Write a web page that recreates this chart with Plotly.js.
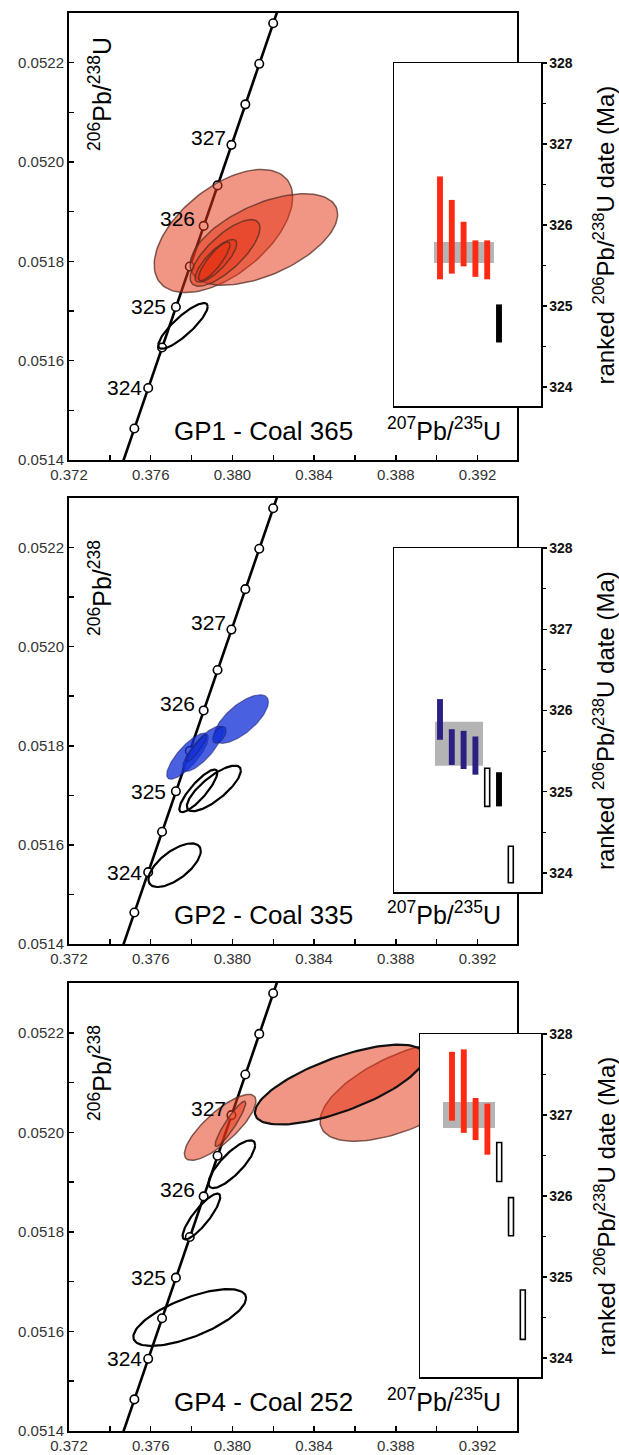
<!DOCTYPE html>
<html>
<head>
<meta charset="utf-8">
<script src="https://cdn.plot.ly/plotly-3.0.1.min.js"></script>
<style>html,body{margin:0;padding:0;background:#fff;}#chart{width:619px;height:1455px;}</style>
</head>
<body>
<div id="chart"></div>
<script>
// ---------- DATA ----------
// Concordia reference points (age in Ma, 207Pb/235U, 206Pb/238U)
const concAge = [323.0, 323.5, 324.0, 324.5, 325.0, 325.5, 326.0, 326.5, 327.0, 327.5, 328.0, 328.5, 329.0];
const concX   = [0.374523, 0.375200, 0.375877, 0.376555, 0.377233, 0.377912, 0.378591, 0.379271, 0.379951, 0.380632, 0.381313, 0.381995, 0.382678];
const concY   = [0.0513819, 0.0514635, 0.0515450, 0.0516266, 0.0517081, 0.0517897, 0.0518713, 0.0519529, 0.0520345, 0.0521161, 0.0521977, 0.0522793, 0.0523609];
const ageLabels = [324, 325, 326, 327];

// Error ellipses: [207/235, 2s, 206/238, 2s, rho]
const gp1Red = [
  [0.37956, 0.00339, 0.051861, 0.000124, 0.55],
  [0.38154, 0.00361, 0.051844, 0.000092, 0.55],
  [0.37964, 0.00171, 0.051817, 0.000067, 0.75],
  [0.37919, 0.00102, 0.051801, 0.000043, 0.80],
  [0.37911, 0.00077, 0.051800, 0.000039, 0.85]
];
const gp1Black = [
  [0.37758, 0.00121, 0.051670, 0.000046, 0.85]
];
const gp2Blue = [
  [0.38043, 0.00133, 0.051854, 0.000049, 0.70],
  [0.37780, 0.00102, 0.051779, 0.0000465, 0.80],
  [0.37856, 0.00099, 0.051794, 0.0000455, 0.80],
  [0.37936, 0.00033, 0.051822, 0.0000168, 0.50],
  [0.37825, 0.00049, 0.051795, 0.0000269, 0.92]
];
const gp2Black = [
  [0.37833, 0.00093, 0.051709, 0.000043, 0.85],
  [0.37909, 0.00132, 0.051714, 0.000046, 0.78],
  [0.37717, 0.00128, 0.051559, 0.000044, 0.65]
];
const gp4Red = [
  [0.38845, 0.00416, 0.052083, 0.000101, 0.60],
  [0.38525, 0.00415, 0.052096, 0.0000802, 0.70],
  [0.37940, 0.00175, 0.052010, 0.0000663, 0.80],
  [0.37990, 0.00075, 0.052017, 0.0000455, 0.92]
];
const gp4Black = [
  [0.37997, 0.00114, 0.051936, 0.000048, 0.80],
  [0.37848, 0.00092, 0.051831, 0.000046, 0.85],
  [0.37791, 0.00276, 0.051628, 0.000057, 0.68]
];

// Ranked 206Pb/238U dates (Ma): low / high of each bar
const gp1Lo = [325.33, 325.40, 325.49, 325.36, 325.33, 324.55];
const gp1Hi = [326.60, 326.31, 326.04, 325.81, 325.81, 325.02];
const gp1Kind = ['red','red','red','red','red','black'];
const gp1Mean = 325.66, gp1MeanErr = 0.13;

const gp2Lo = [325.64, 325.33, 325.28, 325.21, 324.82, 324.82, 323.88];
const gp2Hi = [326.14, 325.77, 325.75, 325.68, 325.29, 325.24, 324.33];
const gp2Kind = ['blue','blue','blue','blue','open','black','open'];
const gp2Mean = 325.59, gp2MeanErr = 0.27;

const gp4Lo = [326.93, 326.78, 326.69, 326.51, 326.18, 325.51, 324.23];
const gp4Hi = [327.78, 327.81, 327.21, 327.14, 326.66, 325.98, 324.84];
const gp4Kind = ['red','red','red','red','open','open','open'];
const gp4Mean = 327.00, gp4MeanErr = 0.16;

const panelNames = ['GP1 - Coal 365', 'GP2 - Coal 335', 'GP4 - Coal 252'];

// ---------- STYLE / LAYOUT ----------
const W = 619, H = 1455;
const PX = x => x / W, PY = y => 1 - y / H;
const FONT = 'Liberation Sans, Arial, sans-serif';

const panels = [
  {name: panelNames[0], top: 13, bot: 460, inX: [394, 541], inY: [63, 406], inRange: [-2.898, 9.559],
   ytitle: '<sup>206</sup>Pb/<sup>238</sup>U', ell: [gp1Red], fills: ['red'], black: gp1Black,
   lo: gp1Lo, hi: gp1Hi, kind: gp1Kind, mean: gp1Mean, err: gp1MeanErr, grayX: 3.03, grayW: 5.08},
  {name: panelNames[1], top: 498, bot: 944, inX: [394, 541], inY: [548, 892], inRange: [-2.898, 9.559],
   ytitle: '<sup>206</sup>Pb/<sup>238</sup>', ell: [gp2Blue], fills: ['blue'], black: gp2Black,
   lo: gp2Lo, hi: gp2Hi, kind: gp2Kind, mean: gp2Mean, err: gp2MeanErr, grayX: 2.61, grayW: 4.07},
  {name: panelNames[2], top: 983, bot: 1431, inX: [420, 541], inY: [1034, 1377], inRange: [-1.712, 8.542],
   ytitle: '<sup>206</sup>Pb/<sup>238</sup>', ell: [gp4Red], fills: ['red4'], black: gp4Black,
   lo: gp4Lo, hi: gp4Hi, kind: gp4Kind, mean: gp4Mean, err: gp4MeanErr, grayX: 2.44, grayW: 4.41}
];

const fillStyles = {
  red:  {fill: 'rgba(228,52,22,0.52)', line: 'rgba(85,45,35,0.75)', w: 1.5},
  blue: {fill: 'rgba(22,52,215,0.78)', line: 'rgba(30,30,110,0.55)', w: 1.2},
  red4: {fill: 'rgba(228,52,22,0.52)', line: 'rgba(85,45,35,0.75)', w: 1.5}
};
const barColors = {red: '#ff2a14', blue: '#2a1f82', black: '#000000', open: '#ffffff'};

function ellipse(e, xa, ya, st, dark) {
  const [cx, ex, cy, ey, rho] = e;
  const s = Math.sqrt(1 - rho * rho);
  const xs = [], ys = [];
  const n = 120;
  for (let i = 0; i <= n; i++) {
    const t = 2 * Math.PI * i / n;
    xs.push(cx + ex * Math.cos(t));
    ys.push(cy + ey * (rho * Math.cos(t) + s * Math.sin(t)));
  }
  const tr = {type: 'scatter', mode: 'lines', x: xs, y: ys, xaxis: xa, yaxis: ya,
    hoverinfo: 'skip', showlegend: false};
  if (st) {
    tr.fill = 'toself'; tr.fillcolor = st.fill;
    tr.line = {color: dark ? '#111' : st.line, width: dark ? 2.2 : st.w};
  } else {
    tr.line = {color: '#000', width: 2.2};
  }
  return tr;
}

const traces = [];
const layout = {
  width: W, height: H, margin: {l: 0, r: 0, t: 0, b: 0},
  paper_bgcolor: '#fff', plot_bgcolor: '#fff', showlegend: false,
  barmode: 'overlay', font: {family: FONT, color: '#000'},
  annotations: []
};

panels.forEach((p, i) => {
  const mi = 2 * i + 1, ii = 2 * i + 2;
  const xa = 'x' + mi, ya = 'y' + mi, xb = 'x' + ii, yb = 'y' + ii;
  const xk = 'xaxis' + mi, yk = 'yaxis' + mi, xbk = 'xaxis' + ii, ybk = 'yaxis' + ii;

  layout[xk] = {domain: [PX(69), PX(517)], anchor: ya, range: [0.372, 0.39393],
    showline: true, mirror: true, linecolor: '#000', linewidth: 2,
    ticks: 'inside', ticklen: 5, tickwidth: 1.5, tickcolor: '#000',
    tick0: 0.372, dtick: 0.004, tickformat: '.3f',
    minor: {dtick: 0.002, ticks: 'inside', ticklen: 5, tickwidth: 1.5, tickcolor: '#000', showgrid: false},
    showgrid: false, zeroline: false, fixedrange: true,
    tickfont: {size: 15, color: '#333', family: FONT}};
  layout[yk] = {domain: [PY(p.bot), PY(p.top)], anchor: xa, range: [0.0514, 0.0523],
    showline: true, mirror: true, linecolor: '#000', linewidth: 2,
    ticks: 'inside', ticklen: 5, tickwidth: 1.5, tickcolor: '#000',
    tick0: 0.0514, dtick: 0.0002, tickformat: '.4f',
    minor: {dtick: 0.0001, ticks: 'inside', ticklen: 5, tickwidth: 1.5, tickcolor: '#000', showgrid: false},
    showgrid: false, zeroline: false, fixedrange: true,
    tickfont: {size: 15, color: '#333', family: FONT}};

  layout[xbk] = {domain: [PX(p.inX[0]), PX(p.inX[1])], anchor: yb, range: p.inRange,
    showline: true, mirror: true, linecolor: '#000', linewidth: 1.5,
    showticklabels: false, ticks: '', showgrid: false, zeroline: false, fixedrange: true};
  layout[ybk] = {domain: [PY(p.inY[1]), PY(p.inY[0])], anchor: xb, side: 'right',
    range: [323.766, 328.0], dtick: 1, tick0: 324,
    showline: true, mirror: true, linecolor: '#000', linewidth: 1.5,
    ticks: 'outside', ticklen: 4, tickwidth: 1.2, tickcolor: '#000',
    minor: {dtick: 0.5, ticks: 'outside', ticklen: 3, tickwidth: 1.2, tickcolor: '#000', showgrid: false},
    showgrid: false, zeroline: false, fixedrange: true,
    tickfont: {size: 14, color: '#111', family: FONT, weight: 'bold'}};

  // concordia
  traces.push({type: 'scatter', mode: 'lines+markers', x: concX, y: concY, xaxis: xa, yaxis: ya,
    line: {color: '#000', width: 2.6},
    marker: {size: 8.5, color: '#fff', line: {color: '#000', width: 1.6}},
    hoverinfo: 'skip', showlegend: false});

  // black open ellipses
  p.black.forEach(e => traces.push(ellipse(e, xa, ya, null)));
  // filled ellipses
  const st = fillStyles[p.fills[0]];
  p.ell[0].forEach((e, k) => {
    const dark = (i === 2 && k === 1);
    traces.push(ellipse(e, xa, ya, st, dark));
  });

  // inset: weighted mean band
  traces.push({type: 'bar', x: [p.grayX], y: [2 * p.err], base: [p.mean - p.err], width: [p.grayW],
    xaxis: xb, yaxis: yb, marker: {color: '#b4b4b4', line: {width: 0}}, hoverinfo: 'skip', showlegend: false});
  // inset: ranked bars
  const ranks = p.lo.map((v, k) => k + 1);
  const filled = ranks.filter((r, k) => p.kind[k] !== 'open');
  const fIdx = p.kind.map((k, j) => j).filter(j => p.kind[j] !== 'open');
  const oIdx = p.kind.map((k, j) => j).filter(j => p.kind[j] === 'open');
  traces.push({type: 'bar', x: fIdx.map(j => ranks[j]), y: fIdx.map(j => p.hi[j] - p.lo[j]),
    base: fIdx.map(j => p.lo[j]), width: 0.5, xaxis: xb, yaxis: yb,
    marker: {color: fIdx.map(j => barColors[p.kind[j]]), line: {width: 0}},
    hoverinfo: 'skip', showlegend: false});
  if (oIdx.length) {
    traces.push({type: 'bar', x: oIdx.map(j => ranks[j]), y: oIdx.map(j => p.hi[j] - p.lo[j]),
      base: oIdx.map(j => p.lo[j]), width: 0.42, xaxis: xb, yaxis: yb,
      marker: {color: '#fff', line: {color: '#000', width: 1.6}},
      hoverinfo: 'skip', showlegend: false});
  }

  // text
  layout.annotations.push({xref: 'paper', yref: 'paper', x: PX(172), y: PY(p.bot - 29),
    xanchor: 'left', yanchor: 'middle', text: p.name, showarrow: false,
    font: {size: 26, family: FONT, color: '#000'}});
  layout.annotations.push({xref: 'paper', yref: 'paper', x: PX(503), y: PY(p.bot - 31),
    xanchor: 'right', yanchor: 'middle', text: '<sup>207</sup>Pb/<sup>235</sup>U', showarrow: false,
    font: {size: 25, family: FONT, color: '#000'}});
  layout.annotations.push({xref: 'paper', yref: 'paper', x: PX(100), y: PY(p.top + 140),
    xanchor: 'center', yanchor: 'bottom', textangle: -90, text: p.ytitle, showarrow: false,
    font: {size: 25, family: FONT, color: '#000'}});
  const inMid = (p.inY[0] + p.inY[1]) / 2 + 1;
  layout.annotations.push({xref: 'paper', yref: 'paper', x: PX(604), y: PY(inMid),
    xanchor: 'center', yanchor: 'middle', textangle: -90,
    text: 'ranked <sup>206</sup>Pb/<sup>238</sup>U date (Ma)', showarrow: false,
    font: {size: 24, family: FONT, color: '#000'}});

  const shiftX = {324: -4, 325: -8, 326: -7, 327: -3};
  const shiftY = {324: 0, 325: 0, 326: 7, 327: 7};
  ageLabels.forEach(a => {
    const j = concAge.indexOf(a);
    layout.annotations.push({xref: xa, yref: ya, x: concX[j], y: concY[j],
      xanchor: 'right', yanchor: 'middle', xshift: shiftX[a], yshift: shiftY[a],
      text: String(a), showarrow: false, font: {size: 21, family: FONT, color: '#000'}});
  });
});

Plotly.newPlot('chart', traces, layout, {staticPlot: true, displayModeBar: false});
</script>
</body>
</html>
